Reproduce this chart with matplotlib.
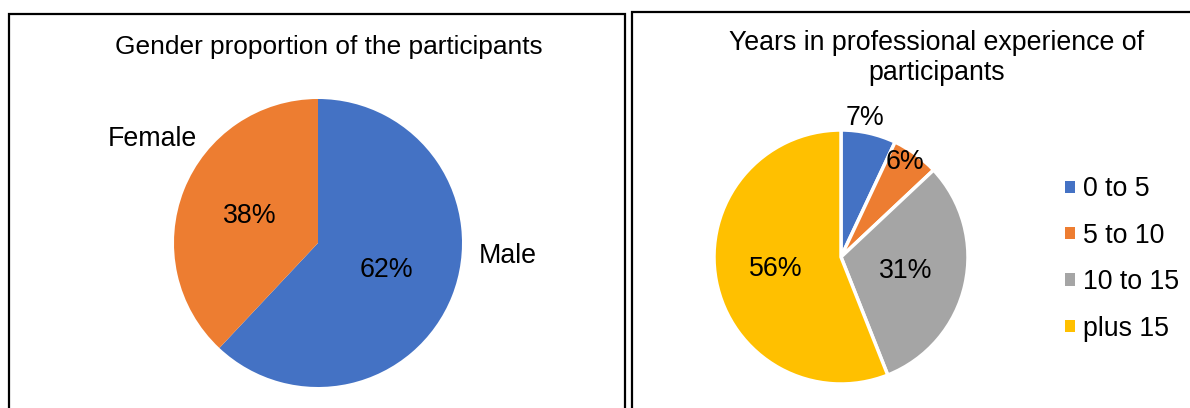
import matplotlib
matplotlib.use("Agg")
import matplotlib.pyplot as plt
from matplotlib.patches import Rectangle, Patch
import numpy as np

plt.rcParams["font.family"] = ["Liberation Sans", "DejaVu Sans"]

# ── Data ─────────────────────────────────────────────────────────────
gender_labels = ["Male", "Female"]
gender_values = [62, 38]
gender_colors = ["#4472C4", "#ED7D31"]

exp_labels = ["0 to 5", "5 to 10", "10 to 15", "plus 15"]
exp_values = [7, 6, 31, 56]
exp_colors = ["#4472C4", "#ED7D31", "#A5A5A5", "#FFC000"]

W, H = 1190, 408
FS = 19.3

fig = plt.figure(figsize=(W / 100, H / 100), dpi=100)


def px_axes(cx, cy, r):
    # axes box (in pixels, y from top) around a pie of radius r
    return fig.add_axes([(cx - r) / W, (H - cy - r) / H, 2 * r / W, 2 * r / H])


def polar(r, ang):
    a = np.deg2rad(ang)
    return r * np.cos(a), r * np.sin(a)


# frames round each chart
fig.patches.append(Rectangle((9 / W, -0.1), (625 - 9) / W, 1.1 - 14 / H,
                             transform=fig.transFigure, fill=False,
                             edgecolor="black", linewidth=1.6))
fig.patches.append(Rectangle((632 / W, -0.1), 0.5, 1.1 - 12 / H,
                             transform=fig.transFigure, fill=False,
                             edgecolor="black", linewidth=1.6))

# ── Left: gender ─────────────────────────────────────────────────────
ax1 = px_axes(318, 243, 144)
wedges, texts, autotexts = ax1.pie(
    gender_values, labels=gender_labels, colors=gender_colors,
    startangle=90, counterclock=False, autopct="%1.0f%%",
    pctdistance=0.51, labeldistance=1.3,
    textprops={"fontsize": FS})
texts[0].set_position(polar(1.32, -4))
texts[1].set_position(polar(1.36, 148))
for t in texts:
    t.set_ha("center")
    t.set_va("center")
ax1.set_xlim(-1, 1)
ax1.set_ylim(-1, 1)
ax1.axis("off")
fig.text(329 / W, 1 - 47 / H, "Gender proportion of the participants",
         ha="center", va="center", fontsize=18.9)

# ── Right: years of experience ───────────────────────────────────────
ax2 = px_axes(841, 257, 127)
wedges2, _, autotexts2 = ax2.pie(
    exp_values, colors=exp_colors, startangle=90, counterclock=False,
    autopct="%1.0f%%", pctdistance=0.52,
    wedgeprops={"edgecolor": "white", "linewidth": 2.5},
    textprops={"fontsize": FS})
autotexts2[0].set_position(polar(1.11, 80))
autotexts2[1].set_position(polar(0.90, 56))
ax2.set_xlim(-1, 1)
ax2.set_ylim(-1, 1)
ax2.axis("off")
fig.text(937 / W, 1 - 58 / H, "Years in professional experience of\nparticipants",
         ha="center", va="center", fontsize=19.3, linespacing=1.18)

handles = [Patch(facecolor=c, edgecolor="none") for c in exp_colors]
fig.legend(handles, exp_labels, loc="center left",
           bbox_to_anchor=(1052 / W, 1 - 259 / H), frameon=False,
           fontsize=FS, handlelength=0.34, handleheight=0.34,
           handletextpad=0.3, labelspacing=0.76, borderpad=0)

fig.savefig("out.png", dpi=100)
